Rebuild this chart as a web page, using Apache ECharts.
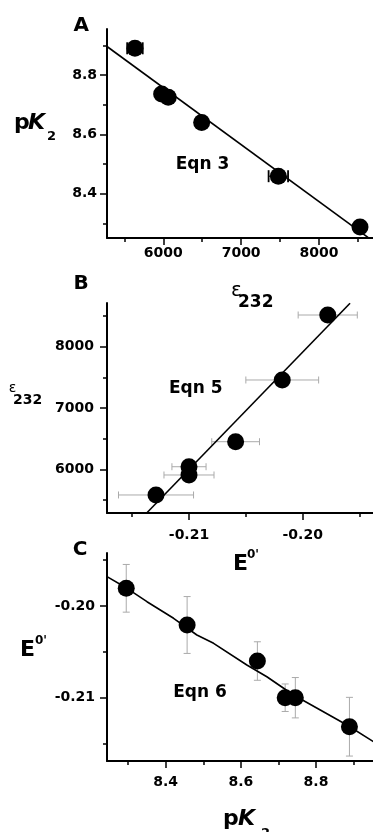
<!DOCTYPE html>
<html><head><meta charset="utf-8">
<script src="https://cdn.jsdelivr.net/npm/echarts@6/dist/echarts.min.js"></script>
<style>html,body{margin:0;padding:0;background:#fff}#c{width:373px;height:832px}</style>
</head><body><div id="c"></div>
<script>
// ---------- Panel A : pK2 vs epsilon232 ----------
const epsA    = [5636, 5979, 6064, 6493, 7478, 8527];
const pkA     = [8.890, 8.736, 8.725, 8.640, 8.459, 8.288];
const epsErrA = [100, 0, 0, 0, 125, 0];
const fitAx   = [5277, 8633];
const fitAy   = [8.896, 8.252];
// ---------- Panel B : epsilon232 vs E0' ----------
const eB      = [-0.2129, -0.2100, -0.2100, -0.2059, -0.2018, -0.1978];
const epsB    = [5581, 6042, 5907, 6450, 7457, 8517];
const eErrB   = [0.0033, 0.0015, 0.0022, 0.0021, 0.0032, 0.0026];
const fitBx   = [-0.21372, -0.19584];
const fitBy   = [5287, 8708];
// ---------- Panel C : E0' vs pK2 ----------
const pkC     = [8.295, 8.457, 8.644, 8.718, 8.745, 8.889];
const eC      = [-0.19807, -0.20207, -0.20600, -0.21000, -0.21000, -0.21316];
const eErrC   = [0.0026, 0.0031, 0.0021, 0.0015, 0.0022, 0.0032];
const fitCx   = [8.2438, 8.2970, 8.3502, 8.4210, 8.4830, 8.5275, 8.6160, 8.6692, 8.7402, 8.8114, 8.8824, 8.9534];
const fitCy   = [-0.19680, -0.19807, -0.19953, -0.20134, -0.20316, -0.20407, -0.20643, -0.20771, -0.20970, -0.21134, -0.21298, -0.21480];
// ---------- ticks ----------
const ticksAx = [6000, 7000, 8000],  minorAx = [5500, 6500, 7500, 8500];
const ticksAy = [8.4, 8.6, 8.8],     minorAy = [8.3, 8.5, 8.7, 8.9];
const ticksBx = [-0.21, -0.20],      minorBx = [-0.215, -0.205, -0.195];
const ticksBy = [6000, 7000, 8000],  minorBy = [5500, 6500, 7500, 8500];
const ticksCx = [8.4, 8.6, 8.8],     minorCx = [8.3, 8.5, 8.7, 8.9];
const ticksCy = [-0.21, -0.20],      minorCy = [-0.215, -0.205, -0.195];

const FONT = 'DejaVu Sans';
const lblStyle = {color:'#000', fontFamily:FONT, fontWeight:'bold', fontSize:14};

function axPair(dim, grid, min, max, major, minor, fmt, margin) {
  const pos = dim === 'x' ? 'bottom' : 'left';
  return [
    {type:'value', gridIndex:grid, min, max, position:pos,
     axisLine:{show:true, onZero:false, lineStyle:{color:'#000', width:2}},
     axisTick:{show:true, customValues:major, length:7, lineStyle:{color:'#000', width:1.5}},
     axisLabel:Object.assign({show:true, customValues:major, margin, formatter:fmt}, lblStyle),
     splitLine:{show:false}},
    {type:'value', gridIndex:grid, min, max, position:pos,
     axisLine:{show:false, onZero:false},
     axisTick:{show:true, customValues:minor, length:4, lineStyle:{color:'#000', width:1.5}},
     axisLabel:{show:false}, splitLine:{show:false}}
  ];
}
const f0 = v => String(Math.round(v));
const f1 = v => v.toFixed(1);
const f2 = v => v.toFixed(2);

function errBar(horizontal, capHalf, color, lw, capLw) {
  return function (params, api) {
    const x = api.value(0), y = api.value(1), e = api.value(2);
    if (!e) return {type:'group', children:[]};
    const p1 = horizontal ? api.coord([x - e, y]) : api.coord([x, y - e]);
    const p2 = horizontal ? api.coord([x + e, y]) : api.coord([x, y + e]);
    const cap = p => horizontal
      ? {type:'line', shape:{x1:p[0], y1:p[1]-capHalf, x2:p[0], y2:p[1]+capHalf}, style:{stroke:color, lineWidth:capLw}}
      : {type:'line', shape:{x1:p[0]-capHalf, y1:p[1], x2:p[0]+capHalf, y2:p[1]}, style:{stroke:color, lineWidth:capLw}};
    return {type:'group', children:[
      {type:'line', shape:{x1:p1[0], y1:p1[1], x2:p2[0], y2:p2[1]}, style:{stroke:color, lineWidth:lw}},
      cap(p1), cap(p2)
    ]};
  };
}
const zip = (a, b, c) => a.map((v, i) => c ? [v, b[i], c[i]] : [v, b[i]]);

const xAxes = [].concat(
  axPair('x', 0, 5277, 8694, ticksAx, minorAx, f0, 8),
  axPair('x', 1, -0.21721, -0.19382, ticksBx, minorBx, f2, 15),
  axPair('x', 2, 8.2438, 8.9517, ticksCx, minorCx, f1, 14)
);
const yAxes = [].concat(
  axPair('y', 0, 8.2507, 8.955, ticksAy, minorAy, f1, 10),
  axPair('y', 1, 5287, 8713, ticksBy, minorBy, f0, 13),
  axPair('y', 2, -0.2169, -0.19422, ticksCy, minorCy, f2, 12)
);

function panelSeries(ax, xs, ys, errs, fx, fy, horiz, errStyle) {
  return [
    {type:'custom', xAxisIndex:ax, yAxisIndex:ax, z:1, silent:true,
     renderItem:errBar(horiz, errStyle.cap, errStyle.color, errStyle.lw, errStyle.capLw),
     encode:{x:0, y:1}, data:zip(xs, ys, errs)},
    {type:'line', xAxisIndex:ax, yAxisIndex:ax, z:2, symbol:'none', silent:true,
     lineStyle:{color:'#000', width:1.6}, data:zip(fx, fy)},
    {type:'scatter', xAxisIndex:ax, yAxisIndex:ax, z:3, symbol:'circle', symbolSize:17,
     itemStyle:{color:'#000', opacity:1}, emphasis:{disabled:true}, data:zip(xs, ys)}
  ];
}
const greyErr = {cap:3.5, color:'#aaa', lw:1, capLw:1};
const series = [].concat(
  panelSeries(0, epsA, pkA, epsErrA, fitAx, fitAy, true, {cap:6, color:'#000', lw:1, capLw:1.8}),
  panelSeries(2, eB, epsB, eErrB, fitBx, fitBy, true, greyErr),
  panelSeries(4, pkC, eC, eErrC, fitCx, fitCy, false, greyErr)
);

function txt(text, x, y, size, opts) {
  opts = opts || {};
  return {type:'text', x, y, z:10, silent:true, style:{
    text, fill:'#000', fontFamily:FONT, fontSize:size,
    fontWeight: opts.weight || 'bold', fontStyle: opts.italic ? 'italic' : 'normal',
    align: opts.align || 'left', verticalAlign:'middle',
    textAlign: opts.align || 'left', textVerticalAlign:'middle'}};
}
const graphics = [
  txt('A', 81.3, 25.8, 20, {align:'center'}),
  txt('B', 81, 284, 20, {align:'center'}),
  txt('C', 80, 550, 20, {align:'center'}),
  txt('Eqn 3', 202.5, 164.5, 17, {align:'center'}),
  txt('Eqn 5', 195.8, 388.5, 17, {align:'center'}),
  txt('Eqn 6', 200, 692.5, 17, {align:'center'}),
  // A y title pK2
  txt('p', 14, 123, 22), txt('K', 28, 123, 22, {italic:true}), txt('2', 47, 137, 13),
  // A x title epsilon232
  txt('ε', 236.5, 291, 20, {align:'center', weight:'normal'}), txt('232', 238, 302.5, 17),
  // B y title epsilon232
  txt('ε', 12.5, 388, 14, {align:'center', weight:'normal'}), txt('232', 13, 400, 14),
  // B x title E0'
  txt('E', 233, 564, 22), txt("0'", 247, 554.5, 12),
  // C y title E0'
  txt('E', 20, 650, 22), txt("0'", 35, 641, 12),
  // C x title pK2
  txt('p', 223, 819.5, 22), txt('K', 238, 819.5, 22, {italic:true}), txt('2', 261, 834, 13)
];

const chart = echarts.init(document.getElementById('c'), null, {renderer:'canvas'});
chart.setOption({
  animation:false,
  backgroundColor:'#fff',
  grid:[
    {left:107, top:29,  width:266, height:209},
    {left:107, top:303, width:266, height:210},
    {left:107, top:553, width:266, height:208}
  ],
  xAxis:xAxes, yAxis:yAxes, series, graphic:graphics
});
</script></body></html>
